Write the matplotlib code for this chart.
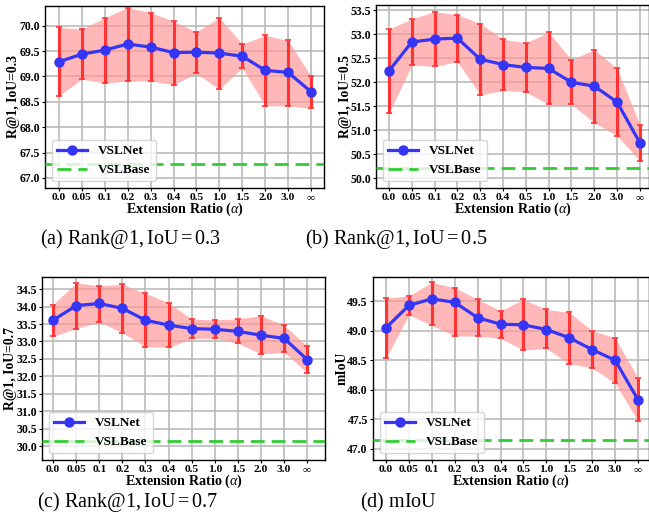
import numpy as np
import matplotlib
matplotlib.use("Agg")
import matplotlib.pyplot as plt


OUTPUT_FILE = "out.png"

X_LABELS = ["0.0", "0.05", "0.1", "0.2", "0.3", "0.4", "0.5", "1.0", "1.5", "2.0", "3.0", "\u221e"]

# panel (a) R@1, IoU=0.3
MEAN_A = [69.29, 69.44, 69.52, 69.64, 69.58, 69.47, 69.48, 69.46, 69.40, 69.12, 69.08, 68.70]
UPPER_A = [69.97, 69.93, 70.16, 70.36, 70.26, 70.09, 69.88, 70.16, 69.64, 69.81, 69.71, 69.01]
LOWER_A = [68.62, 68.95, 68.87, 68.91, 68.91, 68.84, 69.06, 68.75, 69.17, 68.42, 68.42, 68.37]
BASE_A = 67.28

# panel (b) R@1, IoU=0.5
MEAN_B = [52.24, 52.84, 52.90, 52.92, 52.48, 52.37, 52.31, 52.29, 52.00, 51.92, 51.59, 50.74]
UPPER_B = [53.11, 53.32, 53.47, 53.41, 53.22, 52.90, 52.82, 53.04, 52.47, 52.68, 52.29, 51.12]
LOWER_B = [51.36, 52.36, 52.33, 52.43, 51.74, 51.83, 51.80, 51.54, 51.54, 51.16, 50.89, 50.36]
BASE_B = 50.22

# panel (c) R@1, IoU=0.7
MEAN_C = [33.61, 34.03, 34.09, 33.95, 33.61, 33.47, 33.37, 33.35, 33.29, 33.18, 33.09, 32.48]
UPPER_C = [34.06, 34.68, 34.60, 34.64, 34.38, 34.11, 33.64, 33.62, 33.65, 33.74, 33.47, 32.86]
LOWER_C = [33.15, 33.37, 33.56, 33.25, 32.85, 32.83, 33.09, 33.09, 32.95, 32.64, 32.69, 32.10]
BASE_C = 30.14

# panel (d) mIoU
MEAN_D = [49.05, 49.43, 49.54, 49.48, 49.22, 49.11, 49.10, 49.02, 48.88, 48.68, 48.50, 47.83]
UPPER_D = [49.55, 49.59, 49.82, 49.73, 49.53, 49.34, 49.53, 49.36, 49.31, 49.00, 48.88, 48.20]
LOWER_D = [48.54, 49.27, 49.09, 48.91, 48.91, 48.87, 48.67, 48.70, 48.44, 48.37, 48.11, 47.47]
BASE_D = 47.15

PANELS = [
    dict(mean=MEAN_A, upper=UPPER_A, lower=LOWER_A, base=BASE_A,
         ylabel="R@1, IoU=0.3", ylim=(66.8, 70.39), yticks=np.arange(67.0, 70.01, 0.5),
         pos=[45, 6, 324, 188], xlim=(-0.61, 11.57),
         caption=r"(a) $\mathrm{Rank@1, IoU} = 0.3$", cap_xy=(40, 239)),
    dict(mean=MEAN_B, upper=UPPER_B, lower=LOWER_B, base=BASE_B,
         ylabel="R@1, IoU=0.5", ylim=(49.80, 53.61), yticks=np.arange(50.0, 53.51, 0.5),
         pos=[376, 5, 649, 188], xlim=(-0.57, 11.4),
         caption=r"(b) $\mathrm{Rank@1, IoU} = 0.5$", cap_xy=(305, 239)),
    dict(mean=MEAN_C, upper=UPPER_C, lower=LOWER_C, base=BASE_C,
         ylabel="R@1, IoU=0.7", ylim=(29.60, 34.85), yticks=np.arange(30.0, 34.51, 0.5),
         pos=[42, 277, 325, 460], xlim=(-0.48, 11.77),
         caption=r"(c) $\mathrm{Rank@1, IoU} = 0.7$", cap_xy=(37, 502)),
    dict(mean=MEAN_D, upper=UPPER_D, lower=LOWER_D, base=BASE_D,
         ylabel="mIoU", ylim=(46.81, 49.91), yticks=np.arange(47.0, 49.51, 0.5),
         pos=[373, 277, 649, 460], xlim=(-0.57, 11.48),
         caption=r"(d) $\mathrm{mIoU}$", cap_xy=(360, 502)),
]

W, H = 649, 525

plt.rcParams["font.family"] = ["Liberation Serif", "DejaVu Serif"]
plt.rcParams["mathtext.fontset"] = "custom"
plt.rcParams["mathtext.rm"] = "Liberation Serif"
plt.rcParams["mathtext.it"] = "Liberation Serif:italic"


def draw_panel(fig, p):
    l, t, r, b = p["pos"]
    ax = fig.add_axes([l / W, 1 - b / H, (r - l) / W, (b - t) / H])
    x = np.arange(len(X_LABELS))
    mean = np.array(p["mean"])
    upper = np.array(p["upper"])
    lower = np.array(p["lower"])

    ax.fill_between(x, lower, upper, color="#ff9999", alpha=0.7, lw=0, zorder=2)
    ax.errorbar(x, mean, yerr=[mean - lower, upper - mean], fmt="none",
                ecolor="#ff3333", elinewidth=2.2, capsize=2.5, capthick=1.2, zorder=3)
    ax.plot(x, mean, color="#3535f5", lw=2.3, marker="o", ms=6.5, label="VSLNet", zorder=4)
    ax.axhline(p["base"], color="#33cc33", lw=2, ls=(0, (5, 2.5)), label="VSLBase", zorder=4)

    ax.set_xlim(*p["xlim"])
    ax.set_ylim(*p["ylim"])
    ax.set_xticks(x)
    ax.set_xticklabels(X_LABELS, fontsize=8.2, fontweight="bold")
    ax.set_yticks(p["yticks"])
    ax.set_yticklabels([f"{v:.1f}" for v in p["yticks"]], fontsize=8.5, fontweight="bold")
    ax.tick_params(length=2.5, pad=1.2)
    ax.grid(True, color="#bbbbbb", lw=1.2, zorder=0)
    ax.set_axisbelow(True)

    w_px = r - l
    h_px = b - t
    ax.set_xlabel(r"Extension Ratio ($\alpha$)", fontsize=10.2, fontweight="bold")
    ax.xaxis.set_label_coords(0.5, -21.5 / h_px)
    ax.xaxis.label.set_va("center")
    ax.set_ylabel(p["ylabel"], fontsize=9.8, fontweight="bold")
    ax.yaxis.set_label_coords(-31 / w_px, 0.5)
    ax.yaxis.label.set_va("center")

    ax.legend(loc="lower left", prop={"weight": "bold", "size": 9.5},
              handlelength=2.3, borderaxespad=0.5, framealpha=0.8, edgecolor="#cccccc")
    for s in ax.spines.values():
        s.set_linewidth(1.0)

    fig.text(p["cap_xy"][0] / W, 1 - p["cap_xy"][1] / H, p["caption"],
             fontsize=14.5, ha="left", va="center")


def main():
    fig = plt.figure(figsize=(W / 100, H / 100), dpi=100)
    for p in PANELS:
        draw_panel(fig, p)
    fig.savefig(OUTPUT_FILE, dpi=100)
    plt.close(fig)


if __name__ == "__main__":
    main()
